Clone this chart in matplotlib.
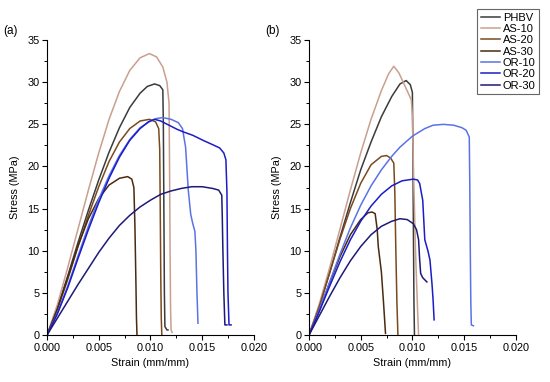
import matplotlib
matplotlib.use("Agg")
import matplotlib.pyplot as plt
from matplotlib.ticker import MultipleLocator

plt.rcParams["font.family"] = ["Liberation Sans", "DejaVu Sans"]

LABELS = ["PHBV", "AS-10", "AS-20", "AS-30", "OR-10", "OR-20", "OR-30"]
COLORS = ["#3b3b3b", "#c9a08e", "#7a4a1e", "#4a2a10", "#5a73e6", "#1c1cc8", "#1e1a78"]

# ---- panel (a) : strain (mm/mm), stress (MPa) ----
a_phbv_x = [0, 0.001, 0.002, 0.003, 0.004, 0.005, 0.006, 0.007, 0.008, 0.009, 0.0097, 0.0104, 0.0109, 0.0112,
            0.01125, 0.0113, 0.01135, 0.0114, 0.0116, 0.0117]
a_phbv_y = [0, 3.2, 7.0, 11.0, 14.8, 18.4, 21.7, 24.6, 27.0, 28.7, 29.5, 29.8, 29.6, 29.1,
            25, 15, 5, 1.0, 0.6, 0.6]
a_as10_x = [0, 0.001, 0.002, 0.003, 0.004, 0.005, 0.006, 0.007, 0.008, 0.009, 0.0099, 0.0106, 0.0112, 0.0116,
            0.0118, 0.01185, 0.0119, 0.01195, 0.0120, 0.0121]
a_as10_y = [0, 3.6, 8.0, 12.6, 17.2, 21.6, 25.6, 28.9, 31.4, 32.9, 33.4, 33.0, 31.8, 30.0,
            27.5, 20, 10, 3, 0.6, 0.3]
a_as20_x = [0, 0.001, 0.002, 0.003, 0.004, 0.005, 0.006, 0.007, 0.008, 0.009, 0.0099, 0.0105, 0.0108,
            0.0109, 0.01095, 0.0110, 0.01105, 0.0111]
a_as20_y = [0, 3.0, 6.6, 10.5, 14.2, 17.6, 20.6, 22.9, 24.5, 25.4, 25.6, 25.3, 24.5,
            22, 15, 7, 2, 0]
a_as30_x = [0, 0.001, 0.002, 0.003, 0.004, 0.005, 0.006, 0.007, 0.0078, 0.0082, 0.0084, 0.0085, 0.0086,
            0.00865, 0.0087]
a_as30_y = [0, 3.1, 6.8, 10.6, 13.8, 16.2, 17.8, 18.6, 18.8, 18.5, 17.5, 13, 6, 2, 0]
a_or10_x = [0, 0.001, 0.002, 0.003, 0.004, 0.005, 0.006, 0.007, 0.008, 0.009, 0.010, 0.0106, 0.0112, 0.0120,
            0.0127, 0.0131, 0.0134, 0.01366, 0.0139, 0.0141, 0.0143, 0.0144, 0.0145, 0.0146]
a_or10_y = [0, 2.6, 5.8, 9.4, 12.9, 16.1, 18.9, 21.3, 23.2, 24.6, 25.4, 25.7, 25.8, 25.6,
            25.2, 24.5, 22.3, 17.2, 14.3, 13.2, 12.3, 10, 5, 1.4]
a_or20_x = [0, 0.001, 0.002, 0.003, 0.004, 0.005, 0.006, 0.007, 0.008, 0.009, 0.0098, 0.0104, 0.0110, 0.0118,
            0.0126, 0.0132, 0.0141, 0.0151, 0.0160, 0.0167, 0.0171, 0.0173, 0.0174, 0.01745, 0.0175,
            0.0176, 0.0178]
a_or20_y = [0, 2.5, 5.6, 9.1, 12.5, 15.7, 18.6, 21.1, 23.1, 24.5, 25.3, 25.6, 25.4, 24.9,
            24.4, 24.1, 23.7, 23.1, 22.6, 22.2, 21.6, 20.8, 17, 10, 5, 1.2, 1.2]
a_or30_x = [0, 0.001, 0.002, 0.003, 0.004, 0.005, 0.006, 0.007, 0.008, 0.009, 0.010, 0.011, 0.012, 0.013,
            0.014, 0.015, 0.016, 0.0166, 0.0169, 0.01695, 0.0170, 0.0171, 0.0172, 0.0174]
a_or30_y = [0, 2.0, 4.0, 6.0, 7.9, 9.8, 11.5, 13.0, 14.2, 15.2, 16.0, 16.7, 17.1, 17.4,
            17.6, 17.6, 17.4, 17.2, 16.6, 14, 10.5, 5, 1.2, 1.2]

# ---- panel (b) ----
b_phbv_x = [0, 0.001, 0.002, 0.003, 0.004, 0.005, 0.006, 0.007, 0.008, 0.0088, 0.0094, 0.0098, 0.0100,
            0.01005, 0.0101, 0.01015, 0.0102]
b_phbv_y = [0, 3.4, 7.4, 11.6, 15.7, 19.6, 22.9, 25.9, 28.3, 29.8, 30.2, 29.7, 28.8, 22, 12, 4, 0]
b_as10_x = [0, 0.001, 0.002, 0.003, 0.004, 0.005, 0.006, 0.007, 0.0077, 0.0082, 0.0087, 0.0093, 0.0099,
            0.0100, 0.0101, 0.0103, 0.0105, 0.0106]
b_as10_y = [0, 3.7, 8.0, 12.6, 17.2, 21.6, 25.6, 29.0, 31.0, 31.9, 31.1, 29.5, 27.9, 26, 20, 10, 3, 0]
b_as20_x = [0, 0.001, 0.002, 0.003, 0.004, 0.005, 0.006, 0.007, 0.0075, 0.0079, 0.0082, 0.0083, 0.0084,
            0.0085, 0.0086]
b_as20_y = [0, 3.4, 7.4, 11.4, 15.0, 18.0, 20.2, 21.2, 21.3, 21.0, 20.4, 17, 10, 4, 0]
b_as30_x = [0, 0.001, 0.002, 0.003, 0.004, 0.005, 0.0057, 0.0061, 0.0064, 0.0066, 0.0067, 0.0069, 0.0070,
            0.0072, 0.0074]
b_as30_y = [0, 2.9, 6.2, 9.3, 11.9, 13.7, 14.5, 14.6, 14.4, 12.5, 10.5, 8.5, 7.5, 4, 0.2]
b_or10_x = [0, 0.001, 0.002, 0.003, 0.004, 0.005, 0.006, 0.007, 0.008, 0.0088, 0.010, 0.0112, 0.012, 0.013,
            0.014, 0.0148, 0.0152, 0.0155, 0.01555, 0.0156, 0.01565, 0.0157, 0.0159]
b_or10_y = [0, 3.0, 6.3, 9.6, 12.7, 15.4, 17.7, 19.6, 21.2, 22.3, 23.6, 24.5, 24.9, 25.0,
            24.9, 24.6, 24.3, 23.5, 18, 10, 4, 1.2, 1.1]
b_or20_x = [0, 0.001, 0.002, 0.003, 0.004, 0.005, 0.006, 0.007, 0.008, 0.009, 0.0101, 0.0105, 0.0107,
            0.0110, 0.0112, 0.0115, 0.0117, 0.0119, 0.0120, 0.0121]
b_or20_y = [0, 2.8, 5.8, 8.7, 11.3, 13.5, 15.3, 16.7, 17.7, 18.3, 18.5, 18.4, 18.0,
            16.0, 11.3, 10.0, 8.9, 6.0, 4.2, 1.8]
b_or30_x = [0, 0.001, 0.002, 0.003, 0.004, 0.005, 0.006, 0.007, 0.008, 0.0088, 0.0095, 0.0101, 0.0104,
            0.0106, 0.0107, 0.0108, 0.0110, 0.0114]
b_or30_y = [0, 2.3, 4.6, 6.8, 8.8, 10.5, 11.9, 12.9, 13.5, 13.8, 13.7, 13.2, 12.5,
            11.3, 9.0, 7.3, 6.8, 6.3]

panel_a = [(a_phbv_x, a_phbv_y), (a_as10_x, a_as10_y), (a_as20_x, a_as20_y), (a_as30_x, a_as30_y),
           (a_or10_x, a_or10_y), (a_or20_x, a_or20_y), (a_or30_x, a_or30_y)]
panel_b = [(b_phbv_x, b_phbv_y), (b_as10_x, b_as10_y), (b_as20_x, b_as20_y), (b_as30_x, b_as30_y),
           (b_or10_x, b_or10_y), (b_or20_x, b_or20_y), (b_or30_x, b_or30_y)]

fig = plt.figure(figsize=(5.5, 3.82), dpi=100)
fig.patch.set_facecolor("white")
ax_a = fig.add_axes([0.0855, 0.123, 0.376, 0.772])
ax_b = fig.add_axes([0.5618, 0.123, 0.376, 0.772])

for ax, data, tag in [(ax_a, panel_a, "(a)"), (ax_b, panel_b, "(b)")]:
    for (xs, ys), lab, col in zip(data, LABELS, COLORS):
        ax.plot(xs, ys, color=col, lw=1.1, label=lab)
    ax.set_xlim(0, 0.020)
    ax.set_ylim(0, 35)
    ax.xaxis.set_major_locator(MultipleLocator(0.005))
    ax.xaxis.set_minor_locator(MultipleLocator(0.0025))
    ax.yaxis.set_major_locator(MultipleLocator(5))
    ax.yaxis.set_minor_locator(MultipleLocator(2.5))
    ax.xaxis.set_major_formatter(matplotlib.ticker.FormatStrFormatter("%.3f"))
    ax.tick_params(which="major", direction="out", length=3.5, width=0.8, labelsize=7.8, pad=2)
    ax.tick_params(which="minor", direction="out", length=2, width=0.7)
    for s in ["top", "right"]:
        ax.spines[s].set_visible(False)
    for s in ["left", "bottom"]:
        ax.spines[s].set_linewidth(0.8)
    ax.set_xlabel("Strain (mm/mm)", fontsize=7.8, labelpad=4)
    ax.set_ylabel("Stress (MPa)", fontsize=7.8, labelpad=5)
    ax.text(-0.21, 1.03, tag, transform=ax.transAxes, fontsize=8.5, ha="left", va="center")

handles, labels = ax_b.get_legend_handles_labels()
leg = fig.legend(handles, labels, loc="upper right", bbox_to_anchor=(0.991, 0.992), fontsize=8,
                 handlelength=1.7, handletextpad=0.3, labelspacing=0.12, borderpad=0.35,
                 fancybox=False, framealpha=1, edgecolor="#666666")
leg.get_frame().set_linewidth(0.8)

fig.savefig("out.png", dpi=100, facecolor="white")
